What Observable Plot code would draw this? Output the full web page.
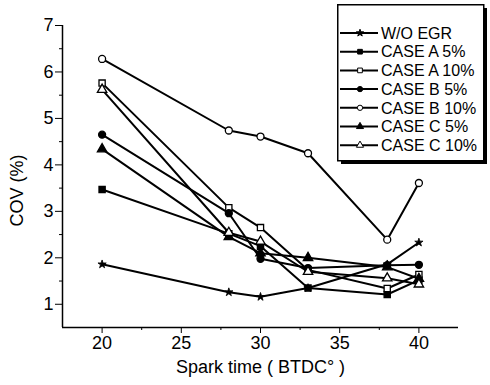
<!DOCTYPE html>
<html>
<head>
<meta charset="utf-8">
<script src="https://cdn.jsdelivr.net/npm/d3@7"></script>
<script src="https://cdn.jsdelivr.net/npm/@observablehq/plot@0.6"></script>
<style>
  html, body { margin: 0; padding: 0; background: #fff; }
  #wrap { position: relative; width: 490px; height: 385px; font-family: "Liberation Sans", Arial, Helvetica, sans-serif; }
  #legend { position: absolute; left: 337px; top: 4px; }
</style>
</head>
<body>
<div id="wrap"></div>
<script>
// ---- data ----
const sparkTimes = [20, 28, 30, 33, 38, 40];
const seriesNames = ["W/O EGR", "CASE A 5%", "CASE A 10%", "CASE B 5%", "CASE B 10%", "CASE C 5%", "CASE C 10%"];
const woEgr   = [1.86, 1.26, 1.16, 1.35, 1.86, 2.33];
const caseA5  = [3.47, 2.52, 2.25, 1.35, 1.21, 1.52];
const caseA10 = [5.76, 3.08, 2.65, 1.74, 1.34, 1.64];
const caseB5  = [4.65, 2.96, 1.98, 1.78, 1.84, 1.85];
const caseB10 = [6.28, 4.74, 4.61, 4.25, 2.39, 3.61];
const caseC5  = [4.34, 2.45, 2.10, 2.00, 1.80, 1.55];
const caseC10 = [5.62, 2.54, 2.35, 1.70, 1.56, 1.43];
const seriesValues = [woEgr, caseA5, caseA10, caseB5, caseB10, caseC5, caseC10];
const seriesSymbols = ["star", "square", "square", "circle", "circle", "triangle", "triangle"];
const seriesFilled = [true, true, false, true, false, true, false];
const yTicks = [1, 2, 3, 4, 5, 6, 7];
const yMinorTicks = [1.5, 2.5, 3.5, 4.5, 5.5, 6.5];
const xTicks = [20, 25, 30, 35, 40];
const xMinorTicks = [22.5, 27.5, 32.5, 37.5];
const xLabel = "Spark time ( BTDC° )";
const yLabel = "COV (%)";

const table = [];
seriesNames.forEach((s, i) => {
  sparkTimes.forEach((t, j) => table.push({series: s, x: t, y: seriesValues[i][j], filled: seriesFilled[i], sym: seriesSymbols[i]}));
});

const font = "Liberation Sans, Arial, Helvetica, sans-serif";

const chart = Plot.plot({
  width: 490,
  height: 385,
  marginLeft: 62,
  marginRight: 32,
  marginTop: 25,
  marginBottom: 58,
  style: {fontFamily: font, fontSize: "18px", color: "black", background: "white"},
  x: {domain: [17.5, 42.5]},
  y: {domain: [0.5, 7]},
  symbol: {domain: seriesNames, range: seriesSymbols},
  marks: [
    Plot.ruleX([17.5], {y1: 0.5, y2: 7, stroke: "black", strokeWidth: 1.5}),
    Plot.ruleY([0.5], {x1: 17.5, x2: 42.5, stroke: "black", strokeWidth: 1.5}),
    Plot.axisY({ticks: yTicks, tickSize: 7, tickPadding: 2, fontSize: 18, label: null, tickFormat: d => String(d)}),
    Plot.axisY({ticks: yMinorTicks, tickSize: 3, tickFormat: () => "", label: null}),
    Plot.axisX({ticks: xTicks, tickSize: 6, tickPadding: 3, fontSize: 18, label: null, tickFormat: d => String(d)}),
    Plot.axisX({ticks: xMinorTicks, tickSize: 3, tickFormat: () => "", label: null}),
    Plot.text([yLabel], {frameAnchor: "left", dx: -45, dy: 14, rotate: -90, textAnchor: "middle", lineAnchor: "middle", fontSize: 18, fill: "black"}),
    Plot.text([xLabel], {frameAnchor: "bottom", dy: 40, lineAnchor: "middle", textAnchor: "middle", fontSize: 18, fill: "black"}),
    Plot.line(table, {x: "x", y: "y", z: "series", stroke: "black", strokeWidth: 2}),
    Plot.dot(table, {filter: d => d.sym !== "star", x: "x", y: "y", symbol: "series", fill: d => d.filled ? "black" : "white", stroke: "black", strokeWidth: 1.3, r: 3.5}),
    Plot.dot(table, {filter: d => d.sym === "star", x: "x", y: "y", symbol: "series", fill: "black", stroke: "black", strokeWidth: 0.8, r: 2.6})
  ]
});

const wrap = document.getElementById("wrap");
wrap.appendChild(chart);

// ---- legend (inside plot area, boxed with drop shadow) ----
const lw = 152, lh = 162;
const leg = d3.create("svg").attr("id", "legend").attr("width", lw).attr("height", lh)
  .style("font-family", font);
leg.append("rect").attr("x", 4).attr("y", 4).attr("width", lw - 6).attr("height", lh - 6).attr("fill", "black");
leg.append("rect").attr("x", 0.75).attr("y", 0.75).attr("width", lw - 6).attr("height", lh - 6)
  .attr("fill", "white").attr("stroke", "black").attr("stroke-width", 1.5);
const symMap = {star: d3.symbolStar, square: d3.symbolSquare, circle: d3.symbolCircle, triangle: d3.symbolTriangle};
seriesNames.forEach((s, i) => {
  const cy = 29 + i * 18.7;
  const g = leg.append("g").attr("transform", `translate(0,${cy})`);
  g.append("line").attr("x1", 3).attr("x2", 41).attr("y1", 0).attr("y2", 0).attr("stroke", "black").attr("stroke-width", 2);
  g.append("path").attr("transform", "translate(23,0)")
    .attr("d", d3.symbol(symMap[seriesSymbols[i]], seriesSymbols[i] === "star" ? 16 : 22)())
    .attr("fill", seriesFilled[i] ? "black" : "white").attr("stroke", "black").attr("stroke-width", 1);
  g.append("text").attr("x", 44).attr("y", 0).attr("dy", "0.36em").attr("font-size", 16).attr("fill", "black").text(s);
});
wrap.appendChild(leg.node());
</script>
</body>
</html>
